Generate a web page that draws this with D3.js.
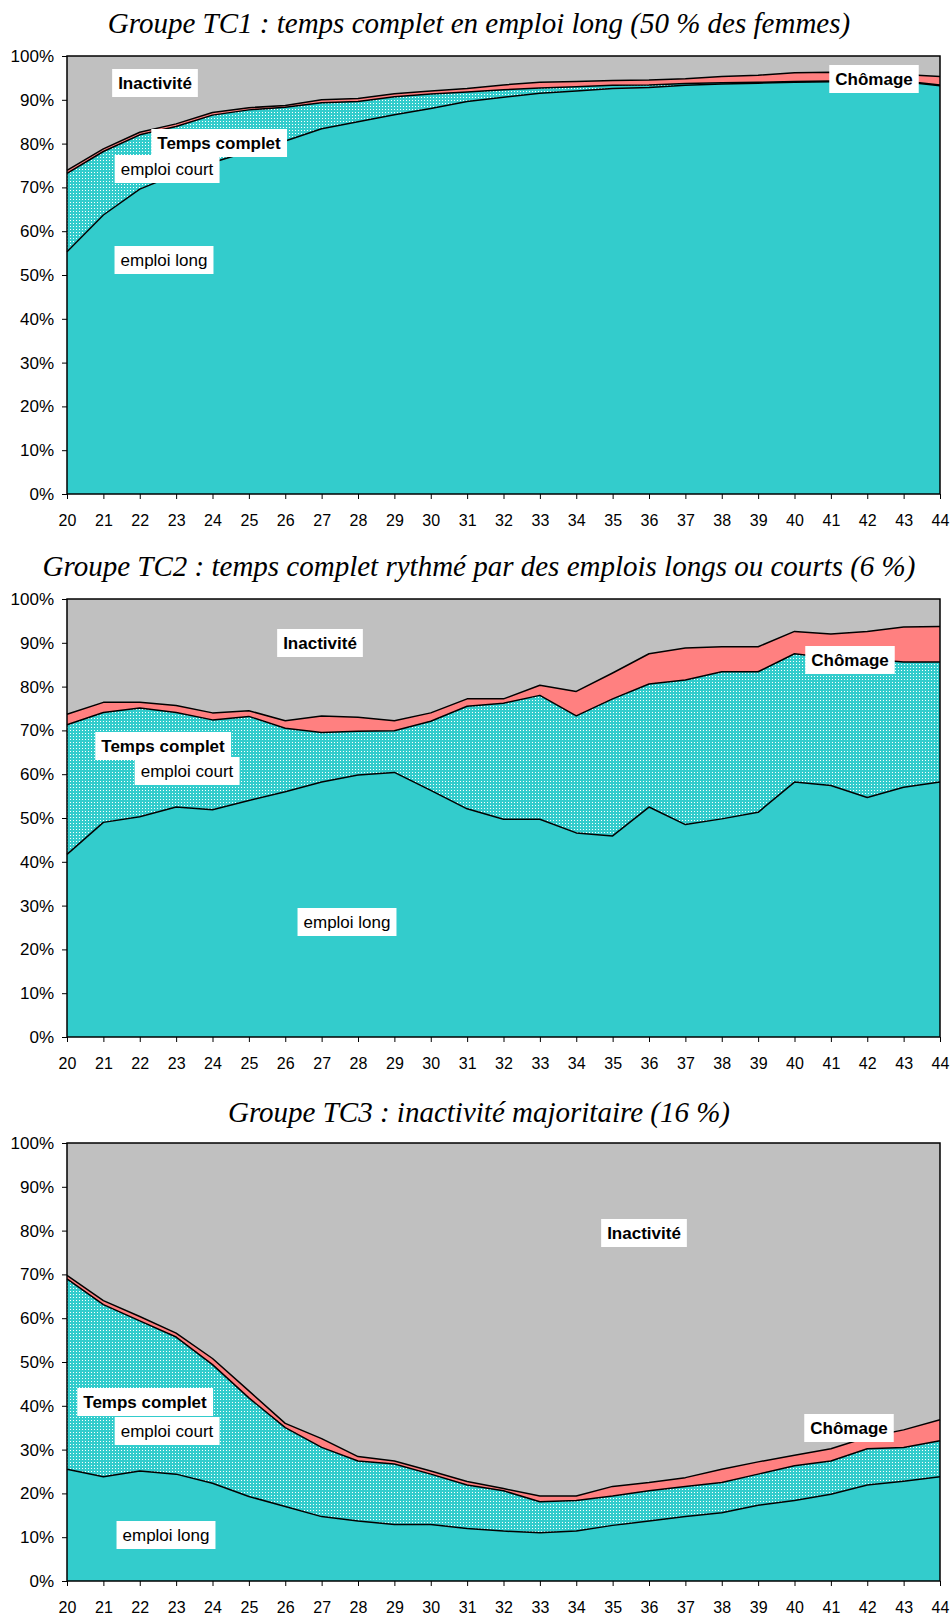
<!DOCTYPE html>
<html>
<head>
<meta charset="utf-8">
<script src="https://cdn.jsdelivr.net/npm/d3@7"></script>
<style>
  body { margin: 0; background: #fff; }
</style>
</head>
<body>
<div class="chart"></div>
<script>
// Ages (x categories)
var ages = [20, 21, 22, 23, 24, 25, 26, 27, 28, 29, 30, 31, 32, 33, 34, 35, 36, 37, 38, 39, 40, 41, 42, 43, 44];
var yTicks = [0, 10, 20, 30, 40, 50, 60, 70, 80, 90, 100];

// Groupe TC1 (% per age)
var tc1Long = [55.3, 63.7, 69.6, 73.0, 75.7, 78.2, 80.6, 83.4, 85.0, 86.6, 88.0, 89.6, 90.6, 91.5, 92.0, 92.6, 92.8, 93.3, 93.6, 93.8, 94.0, 94.1, 94.1, 94.1, 93.2];
var tc1Court = [17.9, 14.5, 12.4, 10.9, 10.8, 9.5, 7.7, 5.9, 4.6, 4.1, 3.3, 2.2, 1.7, 1.2, 1.0, 0.7, 0.6, 0.4, 0.3, 0.2, 0.2, 0.2, 0.2, 0.2, 0.2];
var tc1Chomage = [0.7, 0.6, 0.6, 0.6, 0.6, 0.5, 0.4, 0.7, 0.7, 0.7, 0.7, 0.8, 1.1, 1.3, 1.2, 1.1, 1.1, 1.1, 1.4, 1.6, 2.0, 2.0, 1.9, 1.5, 1.9];

// Groupe TC2
var tc2Long = [41.7, 49.0, 50.3, 52.5, 51.9, 54.0, 56.0, 58.2, 59.8, 60.4, 56.3, 52.1, 49.7, 49.7, 46.6, 45.9, 52.5, 48.5, 49.8, 51.3, 58.2, 57.4, 54.7, 57.0, 58.2];
var tc2Court = [29.6, 25.1, 24.8, 21.6, 20.5, 19.2, 14.5, 11.3, 10.0, 9.5, 15.8, 23.4, 26.5, 28.3, 26.7, 31.3, 28.1, 33.0, 33.6, 32.1, 29.3, 29.1, 31.6, 28.6, 27.4];
var tc2Chomage = [2.4, 2.3, 1.3, 1.6, 1.6, 1.3, 1.7, 3.8, 3.2, 2.3, 1.9, 1.7, 1.0, 2.3, 5.6, 5.9, 6.9, 7.3, 5.7, 5.7, 5.1, 5.5, 6.3, 8.0, 8.1];

// Groupe TC3
var tc3Long = [25.5, 23.8, 25.1, 24.4, 22.3, 19.3, 17.0, 14.7, 13.7, 12.9, 12.9, 12.0, 11.4, 11.0, 11.4, 12.7, 13.7, 14.7, 15.6, 17.3, 18.4, 19.8, 21.9, 22.8, 23.8];
var tc3Court = [43.5, 39.3, 34.3, 31.3, 27.1, 22.5, 18.0, 15.8, 13.7, 13.8, 11.5, 9.9, 9.2, 7.1, 7.0, 6.7, 6.9, 6.9, 6.9, 7.1, 7.9, 7.6, 8.3, 7.7, 8.2];
var tc3Chomage = [0.8, 0.9, 1.0, 0.9, 1.4, 1.6, 1.0, 2.0, 1.0, 0.7, 0.7, 0.8, 0.5, 1.3, 1.0, 2.2, 1.9, 2.0, 3.0, 2.8, 2.4, 2.8, 2.6, 4.0, 4.8];

var titles = [
    "Groupe TC1 : temps complet en emploi long (50 % des femmes)",
    "Groupe TC2 : temps complet rythmé par des emplois longs ou courts (6 %)",
    "Groupe TC3 : inactivité majoritaire (16 %)"
];

var svgWidth = 951;
var svgHeight = 1617;
var plotLeft = 67;
var plotRight = 940;
var plotHeight = 438;

var colors = { inact: "#c0c0c0", chom: "#ff8080", long: "#33cccc" };

// chart placement + text annotations
var charts = [
    { title: titles[0], top: 56, titleY: 33, long: tc1Long, court: tc1Court, chom: tc1Chomage,
      labels: [
        { t: "Inactivité", b: true, x: 155, y: 83 },
        { t: "Temps complet", b: true, x: 219, y: 143 },
        { t: "emploi court", b: false, x: 167, y: 169 },
        { t: "emploi long", b: false, x: 164, y: 260 },
        { t: "Chômage", b: true, x: 874, y: 79 }
      ] },
    { title: titles[1], top: 599, titleY: 576, long: tc2Long, court: tc2Court, chom: tc2Chomage,
      labels: [
        { t: "Inactivité", b: true, x: 320, y: 643 },
        { t: "Temps complet", b: true, x: 163, y: 746 },
        { t: "emploi court", b: false, x: 187, y: 771 },
        { t: "emploi long", b: false, x: 347, y: 922 },
        { t: "Chômage", b: true, x: 850, y: 660 }
      ] },
    { title: titles[2], top: 1143, titleY: 1122, long: tc3Long, court: tc3Court, chom: tc3Chomage,
      labels: [
        { t: "Inactivité", b: true, x: 644, y: 1233 },
        { t: "Temps complet", b: true, x: 145, y: 1402 },
        { t: "emploi court", b: false, x: 167, y: 1431 },
        { t: "emploi long", b: false, x: 166, y: 1535 },
        { t: "Chômage", b: true, x: 849, y: 1428 }
      ] }
];

var svg = d3.select(".chart")
    .append("svg")
    .attr("width", svgWidth)
    .attr("height", svgHeight)
    .style("display", "block");

// dotted pattern for "emploi court"
var pat = svg.append("defs").append("pattern")
    .attr("id", "dots")
    .attr("width", 3)
    .attr("height", 3)
    .attr("patternUnits", "userSpaceOnUse");
pat.append("rect").attr("width", 3).attr("height", 3).attr("fill", colors.long);
pat.append("rect").attr("x", 1).attr("y", 1).attr("width", 1).attr("height", 1).attr("fill", "#ffffff");

var xScale = d3.scaleLinear()
    .domain([d3.min(ages), d3.max(ages)])
    .range([plotLeft, plotRight]);

charts.forEach(function(c) {
    var yScale = d3.scaleLinear()
        .domain([0, 100])
        .range([c.top + plotHeight, c.top]);

    var rows = ages.map(function(a, i) {
        return { age: a, long: c.long[i], court: c.court[i], chom: c.chom[i],
                 inact: 100 - c.long[i] - c.court[i] - c.chom[i] };
    });

    var series = d3.stack().keys(["long", "court", "chom", "inact"])(rows);

    var area = d3.area()
        .x(function(d) { return xScale(d.data.age); })
        .y0(function(d) { return yScale(d[0]); })
        .y1(function(d) { return yScale(d[1]); });

    var fills = { long: colors.long, court: "url(#dots)", chom: colors.chom, inact: colors.inact };

    var g = svg.append("g");

    g.selectAll("path.layer")
        .data(series.slice().reverse())
        .enter()
        .append("path")
        .attr("class", "layer")
        .attr("d", area)
        .attr("fill", function(d) { return fills[d.key]; });

    // boundary lines (top of long, court, chomage)
    var line = d3.line()
        .x(function(d) { return xScale(d.data.age); })
        .y(function(d) { return yScale(d[1]); });

    g.selectAll("path.edge")
        .data(series.slice(0, 3))
        .enter()
        .append("path")
        .attr("class", "edge")
        .attr("d", line)
        .attr("fill", "none")
        .attr("stroke", "#000")
        .attr("stroke-width", 1.5)
        .attr("stroke-linejoin", "round");

    // frame
    g.append("rect")
        .attr("x", plotLeft)
        .attr("y", c.top)
        .attr("width", plotRight - plotLeft)
        .attr("height", plotHeight)
        .attr("fill", "none")
        .attr("stroke", "#000")
        .attr("stroke-width", 1.5);

    // axes
    var leftAxis = d3.axisLeft(yScale)
        .tickValues(yTicks)
        .tickSize(5)
        .tickPadding(8)
        .tickFormat(function(d) { return d + "%"; });

    var bottomAxis = d3.axisBottom(xScale)
        .tickValues(ages)
        .tickSize(5)
        .tickPadding(16)
        .tickFormat(d3.format("d"));

    var ya = g.append("g")
        .attr("transform", "translate(" + plotLeft + ",0)")
        .call(leftAxis);
    ya.select(".domain").remove();
    ya.selectAll("text").style("font-family", "'Liberation Sans', Arial, sans-serif").style("font-size", "17px").attr("fill", "#000");
    ya.selectAll("line").attr("stroke", "#000");

    var xa = g.append("g")
        .attr("transform", "translate(0," + (c.top + plotHeight) + ")")
        .call(bottomAxis);
    xa.select(".domain").remove();
    xa.selectAll("text").style("font-family", "'Liberation Sans', Arial, sans-serif").style("font-size", "16px").attr("fill", "#000");
    xa.selectAll("line").attr("stroke", "#000");

    // title
    svg.append("text")
        .attr("x", 479)
        .attr("y", c.titleY)
        .attr("text-anchor", "middle")
        .style("font-family", "'Liberation Serif', 'Times New Roman', serif")
        .style("font-style", "italic")
        .style("font-size", "29px")
        .text(c.title);

    // annotation labels on white boxes
    c.labels.forEach(function(l) {
        var lg = g.append("g");
        var txt = lg.append("text")
            .attr("x", l.x)
            .attr("y", l.y)
            .attr("dy", "0.35em")
            .attr("text-anchor", "middle")
            .style("font-family", "'Liberation Sans', Arial, sans-serif")
            .style("font-size", "17px")
            .style("font-weight", l.b ? "bold" : "normal")
            .text(l.t);
        var bb = txt.node().getBBox();
        lg.insert("rect", "text")
            .attr("x", bb.x - 6)
            .attr("y", l.y - 14)
            .attr("width", bb.width + 12)
            .attr("height", 28)
            .attr("fill", "#fff");
    });
});
</script>
</body>
</html>
